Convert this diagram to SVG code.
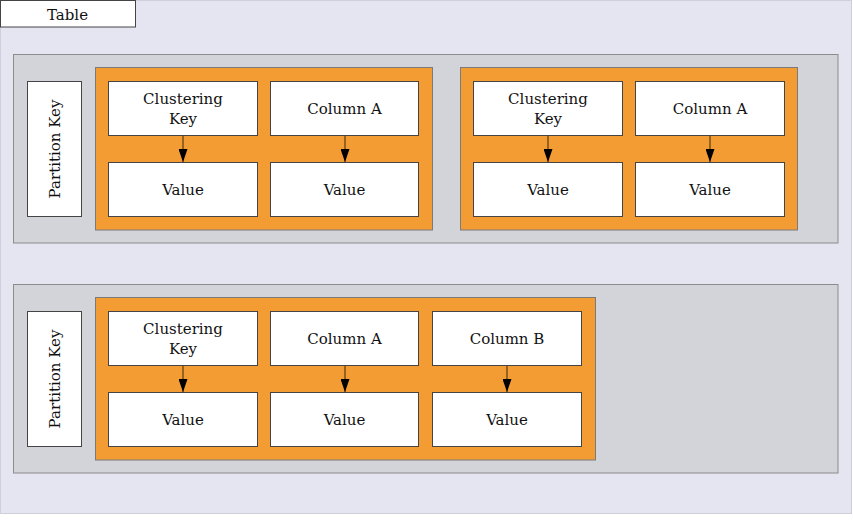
<svg xmlns="http://www.w3.org/2000/svg" width="853" height="528" viewBox="0 0 853 528">
<defs>
<style>
.bg{fill:#e5e5f1;stroke:#cfcfdc;stroke-width:1}
.part{fill:#d3d3da;stroke:#8c8c8c;stroke-width:1}
.row{fill:#f39c34;stroke:#7a7a7a;stroke-width:1}
.box{fill:#ffffff;stroke:#444444;stroke-width:1}
text{font-family:"DejaVu Serif",serif;font-size:15px;fill:#111;text-anchor:middle}
.c{stroke:#5a3c14;stroke-width:1.2;fill:none}
</style>
<marker id="ah" markerWidth="13" markerHeight="9" refX="13" refY="4.5" orient="auto" markerUnits="userSpaceOnUse" viewBox="0 0 13 9">
<path d="M0,0 L13,4.5 L0,9 Z" fill="#000"/>
</marker>
</defs>
<rect class="bg" x="0.5" y="0.5" width="851" height="513"/>
<g id="table"><rect class="box" x="0.5" y="0.5" width="135" height="26.5"/><text x="67.5" y="19.5">Table</text></g>

<g id="partition1">
<rect class="part" x="13.5" y="54.5" width="824.5" height="188.5"/>
<g id="pk1"><rect class="box" x="27.5" y="81.5" width="54" height="135"/><text transform="translate(59.5,149) rotate(-90)">Partition Key</text></g>
<g id="row1a">
<rect class="row" x="95.5" y="67.5" width="337" height="162.5"/>
<g id="r1a-ck"><rect class="box" x="108.5" y="81.5" width="149" height="54"/><text x="183" y="104">Clustering</text><text x="183" y="124">Key</text></g>
<g id="r1a-ca"><rect class="box" x="270.5" y="81.5" width="148" height="54"/><text x="344.5" y="114">Column A</text></g>
<g id="r1a-v1"><rect class="box" x="108.5" y="162.5" width="149" height="54"/><text x="183" y="195">Value</text></g>
<g id="r1a-v2"><rect class="box" x="270.5" y="162.5" width="148" height="54"/><text x="344.5" y="195">Value</text></g>
</g>
<g id="row1b">
<rect class="row" x="460.5" y="67.5" width="337" height="162.5"/>
<g id="r1b-ck"><rect class="box" x="473.5" y="81.5" width="149" height="54"/><text x="548" y="104">Clustering</text><text x="548" y="124">Key</text></g>
<g id="r1b-ca"><rect class="box" x="635.5" y="81.5" width="149" height="54"/><text x="710" y="114">Column A</text></g>
<g id="r1b-v1"><rect class="box" x="473.5" y="162.5" width="149" height="54"/><text x="548" y="195">Value</text></g>
<g id="r1b-v2"><rect class="box" x="635.5" y="162.5" width="149" height="54"/><text x="710" y="195">Value</text></g>
</g>
</g>

<g id="partition2">
<rect class="part" x="13.5" y="284.5" width="824.5" height="188.5"/>
<g id="pk2"><rect class="box" x="27.5" y="311.5" width="54" height="135"/><text transform="translate(59.5,379) rotate(-90)">Partition Key</text></g>
<g id="row2">
<rect class="row" x="95.5" y="297.5" width="500" height="162.5"/>
<g id="r2-ck"><rect class="box" x="108.5" y="311.5" width="149" height="54"/><text x="183" y="334">Clustering</text><text x="183" y="354">Key</text></g>
<g id="r2-ca"><rect class="box" x="270.5" y="311.5" width="148" height="54"/><text x="344.5" y="344">Column A</text></g>
<g id="r2-cb"><rect class="box" x="432.5" y="311.5" width="149" height="54"/><text x="507" y="344">Column B</text></g>
<g id="r2-v1"><rect class="box" x="108.5" y="392.5" width="149" height="54"/><text x="183" y="425">Value</text></g>
<g id="r2-v2"><rect class="box" x="270.5" y="392.5" width="148" height="54"/><text x="344.5" y="425">Value</text></g>
<g id="r2-v3"><rect class="box" x="432.5" y="392.5" width="149" height="54"/><text x="507" y="425">Value</text></g>
</g>
</g>

<g id="connectors">
<line class="c" x1="183" y1="136" x2="183" y2="162" marker-end="url(#ah)"/>
<line class="c" x1="345" y1="136" x2="345" y2="162" marker-end="url(#ah)"/>
<line class="c" x1="548" y1="136" x2="548" y2="162" marker-end="url(#ah)"/>
<line class="c" x1="710" y1="136" x2="710" y2="162" marker-end="url(#ah)"/>
<line class="c" x1="183" y1="366" x2="183" y2="392" marker-end="url(#ah)"/>
<line class="c" x1="345" y1="366" x2="345" y2="392" marker-end="url(#ah)"/>
<line class="c" x1="507" y1="366" x2="507" y2="392" marker-end="url(#ah)"/>
</g>
</svg>
